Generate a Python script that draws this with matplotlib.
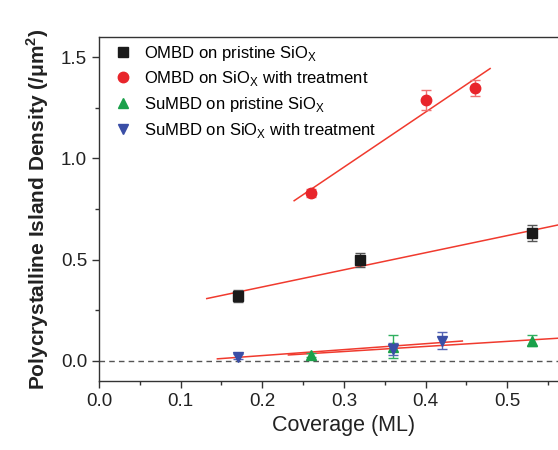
import numpy as np
import matplotlib
matplotlib.use("Agg")
import matplotlib.pyplot as plt
from matplotlib.ticker import MultipleLocator, FixedLocator

plt.rcParams['font.family'] = ['Liberation Sans', 'DejaVu Sans']
plt.rcParams['mathtext.fontset'] = 'custom'
plt.rcParams['mathtext.rm'] = 'Liberation Sans'
plt.rcParams['mathtext.bf'] = 'Liberation Sans:bold'

# OMBD on pristine SiOx
omp_x = [0.17, 0.32, 0.53]
omp_y = [0.32, 0.50, 0.63]
omp_e = [0.03, 0.035, 0.04]
omp_fit = [0.132, 0.60]
# OMBD on SiOx with treatment
omt_x = [0.26, 0.40, 0.46]
omt_y = [0.83, 1.29, 1.35]
omt_e = [0.02, 0.05, 0.04]
omt_fit = [0.239, 0.479]
# SuMBD on pristine SiOx
sup_x = [0.26, 0.36, 0.53]
sup_y = [0.03, 0.07, 0.10]
sup_e = [0.01, 0.058, 0.025]
sup_fit = [0.232, 0.60]
# SuMBD on SiOx with treatment
sut_x = [0.17, 0.36, 0.42]
sut_y = [0.02, 0.06, 0.10]
sut_e = [0.012, 0.03, 0.04]
sut_fit = [0.145, 0.445]

xticks = [0.0, 0.1, 0.2, 0.3, 0.4, 0.5]

series = [
    (omp_x, omp_y, omp_e, omp_fit, "s", "#1a1a1a", "#555555", 6.5, r"OMBD on pristine SiO$_\mathrm{X}$"),
    (omt_x, omt_y, omt_e, omt_fit, "o", "#e8252b", "#f07070", 7.5, r"OMBD on SiO$_\mathrm{X}$ with treatment"),
    (sup_x, sup_y, sup_e, sup_fit, "^", "#1aa04a", "#30b060", 7.5, r"SuMBD on pristine SiO$_\mathrm{X}$"),
    (sut_x, sut_y, sut_e, sut_fit, "v", "#3a4ea6", "#5565b5", 7.5, r"SuMBD on SiO$_\mathrm{X}$ with treatment"),
]

fig = plt.figure(figsize=(5.58, 4.5), dpi=100)
ax = fig.add_axes([0.1774, 0.1533, 0.878, 0.7644])

ax.axhline(0, color="#555555", lw=1.0, ls=(0, (4, 3)), zorder=1)

handles = []
for x, y, e, fr, mk, c, ec, ms, lab in series:
    k, b = np.polyfit(x, y, 1)
    fx = np.array(fr)
    ax.plot(fx, k * fx + b, color="#f03a2e", lw=1.1, zorder=2)
    ax.errorbar(x, y, yerr=e, fmt="none", ecolor=ec, elinewidth=1.0,
                capsize=3.5, capthick=1.0, zorder=3)
    h, = ax.plot(x, y, ls="none", marker=mk, color=c, ms=ms, zorder=4, label=lab)
    handles.append(h)

ax.set_xlim(0, 0.6)
ax.set_ylim(-0.1, 1.6)
ax.xaxis.set_major_locator(FixedLocator(xticks))
ax.xaxis.set_minor_locator(MultipleLocator(0.05))
ax.yaxis.set_major_locator(MultipleLocator(0.5))
ax.yaxis.set_minor_locator(MultipleLocator(0.25))
ax.tick_params(which="both", direction="out", top=False, right=False, labelsize=13.5,
               color="#333333", labelcolor="#222222")
ax.tick_params(which="major", length=5, width=1)
ax.tick_params(which="minor", length=3, width=1)
for s in ax.spines.values():
    s.set_color("#333333")
    s.set_linewidth(1.0)
ax.spines["right"].set_visible(False)

ax.set_xlabel("Coverage (ML)", fontsize=15.5, color="#222222", labelpad=4)
ax.set_ylabel(r"Polycrystalline Island Density (/$\mathbf{\mu}$m$^\mathbf{2}$)",
              fontsize=15, fontweight="bold", color="#222222", labelpad=7)

ax.legend(handles=handles, loc="upper left", bbox_to_anchor=(0.0, 1.015), frameon=False,
          fontsize=12, handletextpad=0.5, labelspacing=0.4, borderaxespad=0.3,
          handlelength=1.5)

fig.savefig("out.png", dpi=100)
